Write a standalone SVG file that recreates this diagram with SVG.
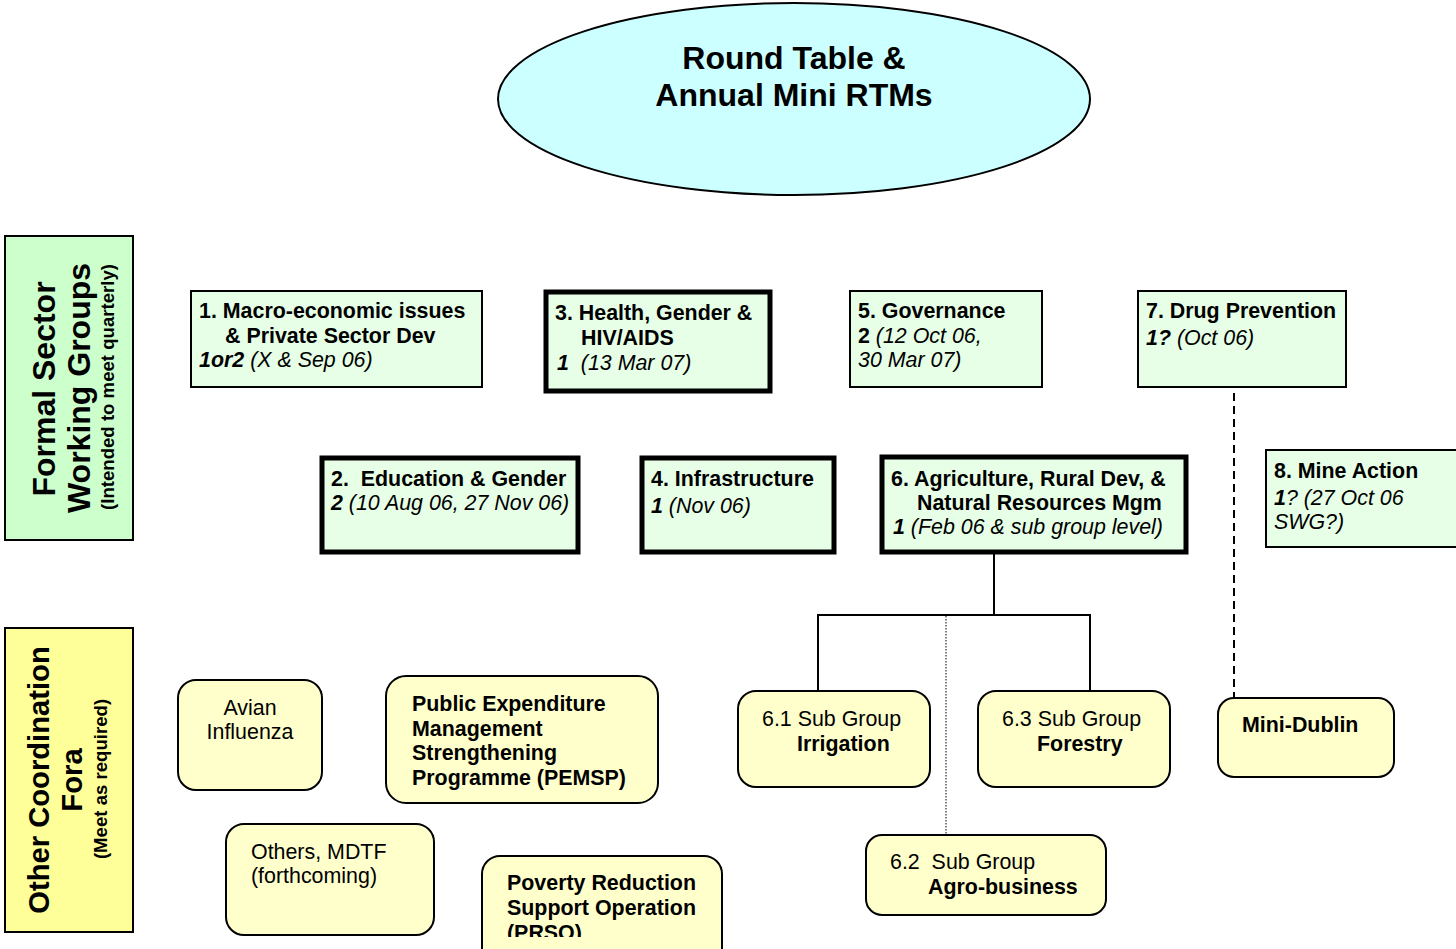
<svg xmlns="http://www.w3.org/2000/svg" width="1456" height="949" viewBox="0 0 1456 949">
<style>
text{font-family:"Liberation Sans",Arial,sans-serif;fill:#000}
.t{font-size:21.4px}
.b{font-weight:bold}
.i{font-style:italic}
.wg{fill:#e6ffe6;stroke:#000;stroke-width:2}
.wgk{fill:#e6ffe6;stroke:#000;stroke-width:5}
.of{fill:#ffffcc;stroke:#000;stroke-width:2}
.side{font-size:32px;font-weight:bold}
.side2{font-size:29.2px;font-weight:bold}
.sub{font-size:18.6px;font-weight:bold}
.ln{fill:none;stroke:#000;stroke-width:2}
</style>
<defs>
<clipPath id="clipPrso"><rect x="482" y="856" width="242" height="81"/></clipPath>
</defs>
<rect width="1456" height="949" fill="#fff"/>

<g id="roundtable">
<ellipse cx="794" cy="99" rx="296" ry="96" fill="#ccffff" stroke="#000" stroke-width="2"/>
<text x="794" y="69" text-anchor="middle" style="font-size:32px;font-weight:bold">Round Table &amp;</text>
<text x="794" y="106" text-anchor="middle" style="font-size:32px;font-weight:bold">Annual Mini RTMs</text>
</g>

<g id="formal-label">
<rect x="5" y="236" width="128" height="304" fill="#ccffcc" stroke="#000" stroke-width="2"/>
<text class="side" text-anchor="middle" transform="translate(55,389) rotate(-90)">Formal Sector</text>
<text class="side" text-anchor="middle" transform="translate(90,388) rotate(-90)">Working Groups</text>
<text class="sub" text-anchor="middle" transform="translate(114,387) rotate(-90)">(Intended to meet quarterly)</text>
</g>

<g id="other-label">
<rect x="5" y="628" width="128" height="304" fill="#ffff99" stroke="#000" stroke-width="2"/>
<text class="side2" text-anchor="middle" transform="translate(49,780) rotate(-90)">Other Coordination</text>
<text class="side2" text-anchor="middle" transform="translate(82,780) rotate(-90)">Fora</text>
<text class="sub" text-anchor="middle" transform="translate(107,779) rotate(-90)">(Meet as required)</text>
</g>

<g id="connectors">
<polyline class="ln" points="994,553 994,615"/>
<polyline class="ln" points="818,694 818,615 1090,615 1090,694"/>
<line x1="946" y1="616" x2="946" y2="836" stroke="#000" stroke-width="1" stroke-dasharray="1.5,1.5"/>
<line x1="1234" y1="393" x2="1234" y2="698" stroke="#000" stroke-width="2" stroke-dasharray="8,5"/>
</g>

<g id="wg1">
<rect class="wg" x="191" y="291" width="291" height="96"/>
<text class="t b" x="199" y="318">1. Macro-economic issues</text>
<text class="t b" x="225" y="343">&amp; Private Sector Dev</text>
<text class="t i" x="199" y="367"><tspan class="b">1or2</tspan> (X &amp; Sep 06)</text>
</g>

<g id="wg3">
<rect class="wgk" x="546" y="292" width="224" height="99"/>
<text class="t b" x="555" y="320">3. Health, Gender &amp;</text>
<text class="t b" x="581" y="345">HIV/AIDS</text>
<text class="t i" x="557" y="370" xml:space="preserve"><tspan class="b">1</tspan>  (13 Mar 07)</text>
</g>

<g id="wg5">
<rect class="wg" x="850" y="291" width="192" height="96"/>
<text class="t b" x="858" y="318">5. Governance</text>
<text class="t i" x="858" y="343"><tspan class="b" style="font-style:normal">2</tspan> (12 Oct 06,</text>
<text class="t i" x="858" y="367">30 Mar 07)</text>
</g>

<g id="wg7">
<rect class="wg" x="1138" y="291" width="208" height="96"/>
<text class="t b" x="1146" y="318">7. Drug Prevention</text>
<text class="t i" x="1146" y="345"><tspan class="b">1?</tspan> (Oct 06)</text>
</g>

<g id="wg8">
<rect class="wg" x="1266" y="450" width="200" height="97"/>
<text class="t b" x="1274" y="478">8. Mine Action</text>
<text class="t i" x="1274" y="505"><tspan class="b">1</tspan>? (27 Oct 06</text>
<text class="t i" x="1274" y="529">SWG?)</text>
</g>

<g id="wg2">
<rect class="wgk" x="322" y="458" width="256" height="94"/>
<text class="t b" x="331" y="486" xml:space="preserve">2.  Education &amp; Gender</text>
<text class="t i" x="331" y="510"><tspan class="b">2</tspan> (10 Aug 06, 27 Nov 06)</text>
</g>

<g id="wg4">
<rect class="wgk" x="642" y="458" width="192" height="94"/>
<text class="t b" x="651" y="486">4. Infrastructure</text>
<text class="t i" x="651" y="513"><tspan class="b">1</tspan> (Nov 06)</text>
</g>

<g id="wg6">
<rect class="wgk" x="882" y="457" width="304" height="95"/>
<text class="t b" x="891" y="486">6. Agriculture, Rural Dev, &amp;</text>
<text class="t b" x="917" y="510">Natural Resources Mgm</text>
<text class="t i" x="893" y="534"><tspan class="b">1</tspan> (Feb 06 &amp; sub group level)</text>
</g>

<g id="avian">
<rect class="of" x="178" y="680" width="144" height="110" rx="18"/>
<text class="t" x="250" y="715" text-anchor="middle">Avian</text>
<text class="t" x="250" y="739" text-anchor="middle">Influenza</text>
</g>

<g id="pemsp">
<rect class="of" x="386" y="676" width="272" height="127" rx="20"/>
<text class="t b" x="412" y="711">Public Expenditure</text>
<text class="t b" x="412" y="736">Management</text>
<text class="t b" x="412" y="760">Strengthening</text>
<text class="t b" x="412" y="785">Programme (PEMSP)</text>
</g>

<g id="others">
<rect class="of" x="226" y="824" width="208" height="111" rx="18"/>
<text class="t" x="251" y="859">Others, MDTF</text>
<text class="t" x="251" y="883">(forthcoming)</text>
</g>

<g id="prso">
<rect class="of" x="482" y="856" width="240" height="110" rx="18"/>
<g clip-path="url(#clipPrso)">
<text class="t b" x="507" y="890">Poverty Reduction</text>
<text class="t b" x="507" y="915">Support Operation</text>
<text class="t b" x="507" y="940">(PRSO)</text>
</g>
</g>

<g id="sg61">
<rect class="of" x="738" y="691" width="192" height="96" rx="18"/>
<text class="t" x="762" y="726">6.1 Sub Group</text>
<text class="t b" x="797" y="751">Irrigation</text>
</g>

<g id="sg63">
<rect class="of" x="978" y="691" width="192" height="96" rx="18"/>
<text class="t" x="1002" y="726">6.3 Sub Group</text>
<text class="t b" x="1037" y="751">Forestry</text>
</g>

<g id="sg62">
<rect class="of" x="866" y="835" width="240" height="80" rx="16"/>
<text class="t" x="890" y="869" xml:space="preserve">6.2  Sub Group</text>
<text class="t b" x="928" y="894">Agro-business</text>
</g>

<g id="minidublin">
<rect class="of" x="1218" y="698" width="176" height="79" rx="16"/>
<text class="t b" x="1242" y="732">Mini-Dublin</text>
</g>
</svg>
